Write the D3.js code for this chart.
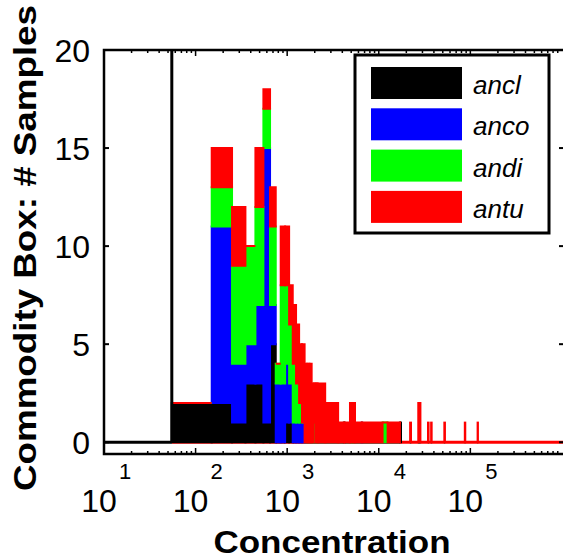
<!DOCTYPE html>
<html lang="en">
<head>
<meta charset="UTF-8">
<title>Commodity Box: # Samples</title>
<style>
  body { margin: 0; background: #fff; }
  svg { display: block; font-family: "Liberation Sans", Arial, sans-serif; }
</style>
</head>
<body>
<div id="chart"></div>
<script src="https://d3js.org/d3.v7.min.js"></script>
<script>
// series and colours
const seriesNames = ["ancl", "anco", "andi", "antu"];
const seriesColors = ["#000000", "#0000ff", "#00ff00", "#ff0000"];

// histogram bins (concentration edges)
const binLo = [55, 150, 250, 350, 450, 550, 650, 750, 850, 950, 1050, 1150, 1250, 1350, 1450, 1550, 1650, 1750, 1850, 1950, 2050,
  2150, 2600, 3600, 4150, 4250, 4850, 5150, 5250, 5500, 6500, 6600, 11000, 12500, 17000, 22000, 27000, 34500, 37300, 52000, 87000, 120000];
const binHi = [150, 250, 350, 450, 550, 650, 750, 850, 950, 1050, 1150, 1250, 1350, 1450, 1550, 1650, 1750, 1850, 1950, 2050, 2150,
  2600, 3600, 4150, 4250, 4850, 5150, 5250, 5500, 6500, 6600, 11000, 12500, 17000, 17500, 22500, 28500, 35000, 37800, 52800, 88000, 121000];

// counts per bin
const ancl = [2, 2, 1, 3, 3, 1, 5, 0, 0, 1, 1, 0, 0, 0, 0, 0, 0, 0, 0, 0, 0,
  0, 0, 0, 1, 0, 0, 0, 0, 0, 0, 0, 0, 0, 1, 0, 0, 0, 0, 0, 0, 0];
const anco = [0, 9, 3, 2, 4, 14, 2, 3, 3, 3, 2, 1, 1, 1, 1, 0, 0, 0, 0, 0, 0,
  0, 0, 0, 0, 0, 0, 0, 0, 0, 1, 0, 0, 0, 0, 0, 0, 0, 0, 0, 0, 0];
const andi = [0, 2, 5, 5, 5, 2, 4, 1, 5, 4, 3, 3, 2, 1, 0, 0, 0, 0, 0, 1, 0,
  0, 0, 0, 0, 0, 0, 1, 0, 0, 0, 0, 1, 0, 0, 0, 0, 0, 0, 0, 0, 0];
const antu = [0, 2, 3, 0, 3, 1, 2, 0, 3, 3, 2, 3, 3, 3, 4, 4, 4, 4, 3, 2, 3,
  3, 2, 1, 0, 1, 2, 0, 2, 1, 0, 1, 0, 1, 0, 1, 2, 1, 1, 1, 1, 1];

const detectionLimit = 55;
const yTicks = [0, 5, 10, 15, 20];
const xDecades = [1, 2, 3, 4, 5];

const width = 563, height = 559;
const plotLeft = 104, plotRight = 565, plotTop = 50, plotBottom = 454;

const svg = d3.select("#chart").append("svg")
  .attr("width", width)
  .attr("height", height);

const x = d3.scaleLog().domain([10, 1.08e6]).range([plotLeft, plotRight]);
const y = d3.scaleLinear().domain([-0.6, 20]).range([plotBottom, plotTop]);

const rows = binLo.map((lo, i) => ({
  lo: lo, hi: binHi[i],
  ancl: ancl[i], anco: anco[i], andi: andi[i], antu: antu[i]
}));
const stacked = d3.stack().keys(seriesNames)(rows);

const plot = svg.append("g");

// zero line of the histogram
plot.append("line")
  .attr("x1", x(detectionLimit)).attr("x2", plotRight)
  .attr("y1", y(0)).attr("y2", y(0))
  .attr("stroke", "#ff0000").attr("stroke-width", 3);
plot.append("line")
  .attr("x1", plotLeft).attr("x2", x(detectionLimit))
  .attr("y1", y(0)).attr("y2", y(0))
  .attr("stroke", "#000").attr("stroke-width", 3);

// stacked bars, each segment with an edge in its own colour
stacked.forEach((layer, k) => {
  plot.append("g")
    .selectAll("path")
    .data(layer)
    .join("path")
    .attr("d", d => {
      const x0 = x(d.data.lo), x1 = x(d.data.hi);
      const y0 = y(d[0]), y1 = y(d[1]);
      return `M${x0},${y0}H${x1}V${y1}H${x0}Z`;
    })
    .attr("fill", seriesColors[k])
    .attr("stroke", seriesColors[k])
    .attr("stroke-width", 2)
    .attr("stroke-linejoin", "miter");
});

// detection limit line
plot.append("line")
  .attr("x1", x(detectionLimit)).attr("x2", x(detectionLimit))
  .attr("y1", y(0)).attr("y2", plotTop)
  .attr("stroke", "#000").attr("stroke-width", 3);

// axes box
const axis = svg.append("g").attr("stroke", "#000");
axis.append("rect")
  .attr("x", plotLeft).attr("y", plotTop)
  .attr("width", plotRight - plotLeft).attr("height", plotBottom - plotTop)
  .attr("fill", "none").attr("stroke-width", 2.5);

// y ticks
yTicks.forEach(v => {
  axis.append("line").attr("x1", plotLeft).attr("x2", plotLeft + 5)
    .attr("y1", y(v)).attr("y2", y(v)).attr("stroke-width", 2);
  axis.append("line").attr("x1", plotRight).attr("x2", plotRight - 6)
    .attr("y1", y(v)).attr("y2", y(v)).attr("stroke-width", 2);
});
svg.append("g").selectAll("text")
  .data(yTicks)
  .join("text")
  .attr("x", 90)
  .attr("y", d => y(d) + 12)
  .attr("text-anchor", "end")
  .attr("font-size", 32)
  .text(d => d);

// x ticks (log decades and minor ticks)
xDecades.forEach(p => {
  const base = Math.pow(10, p);
  [plotTop, plotBottom].forEach(edge => {
    const dir = edge === plotTop ? 1 : -1;
    axis.append("line").attr("x1", x(base)).attr("x2", x(base))
      .attr("y1", edge).attr("y2", edge + dir * 6).attr("stroke-width", 1.5);
    d3.range(2, 10).forEach(m => {
      axis.append("line").attr("x1", x(base * m)).attr("x2", x(base * m))
        .attr("y1", edge).attr("y2", edge + dir * 3).attr("stroke-width", 1.5);
    });
  });
});
const xLabels = svg.append("g").selectAll("g")
  .data(xDecades)
  .join("g");
xLabels.append("text")
  .attr("x", d => x(Math.pow(10, d)) - 5)
  .attr("y", 512)
  .attr("text-anchor", "middle")
  .attr("font-size", 32)
  .text("10");
xLabels.append("text")
  .attr("x", d => x(Math.pow(10, d)) + 21)
  .attr("y", 479)
  .attr("text-anchor", "middle")
  .attr("font-size", 22)
  .text(d => d);

// axis titles
svg.append("text")
  .attr("x", 332).attr("y", 553)
  .attr("text-anchor", "middle")
  .attr("font-size", 32).attr("font-weight", "bold")
  .attr("textLength", 237).attr("lengthAdjust", "spacingAndGlyphs")
  .text("Concentration");
svg.append("text")
  .attr("transform", "translate(36,248) rotate(-90)")
  .attr("text-anchor", "middle")
  .attr("font-size", 32).attr("font-weight", "bold")
  .attr("textLength", 486).attr("lengthAdjust", "spacingAndGlyphs")
  .text("Commodity Box:  # Samples");

// legend
const legend = svg.append("g");
legend.append("rect")
  .attr("x", 355).attr("y", 55).attr("width", 194).attr("height", 178)
  .attr("fill", "#fff").attr("stroke", "#000").attr("stroke-width", 3);
const item = legend.selectAll("g.item")
  .data(seriesNames)
  .join("g")
  .attr("class", "item")
  .attr("transform", (d, i) => `translate(0,${67 + i * 41.3})`);
item.append("rect")
  .attr("x", 371).attr("y", 0).attr("width", 91).attr("height", 32)
  .attr("fill", (d, i) => seriesColors[i]);
item.append("text")
  .attr("x", 473).attr("y", 27)
  .attr("font-size", 26).attr("font-style", "italic")
  .text(d => d);
</script>
</body>
</html>
